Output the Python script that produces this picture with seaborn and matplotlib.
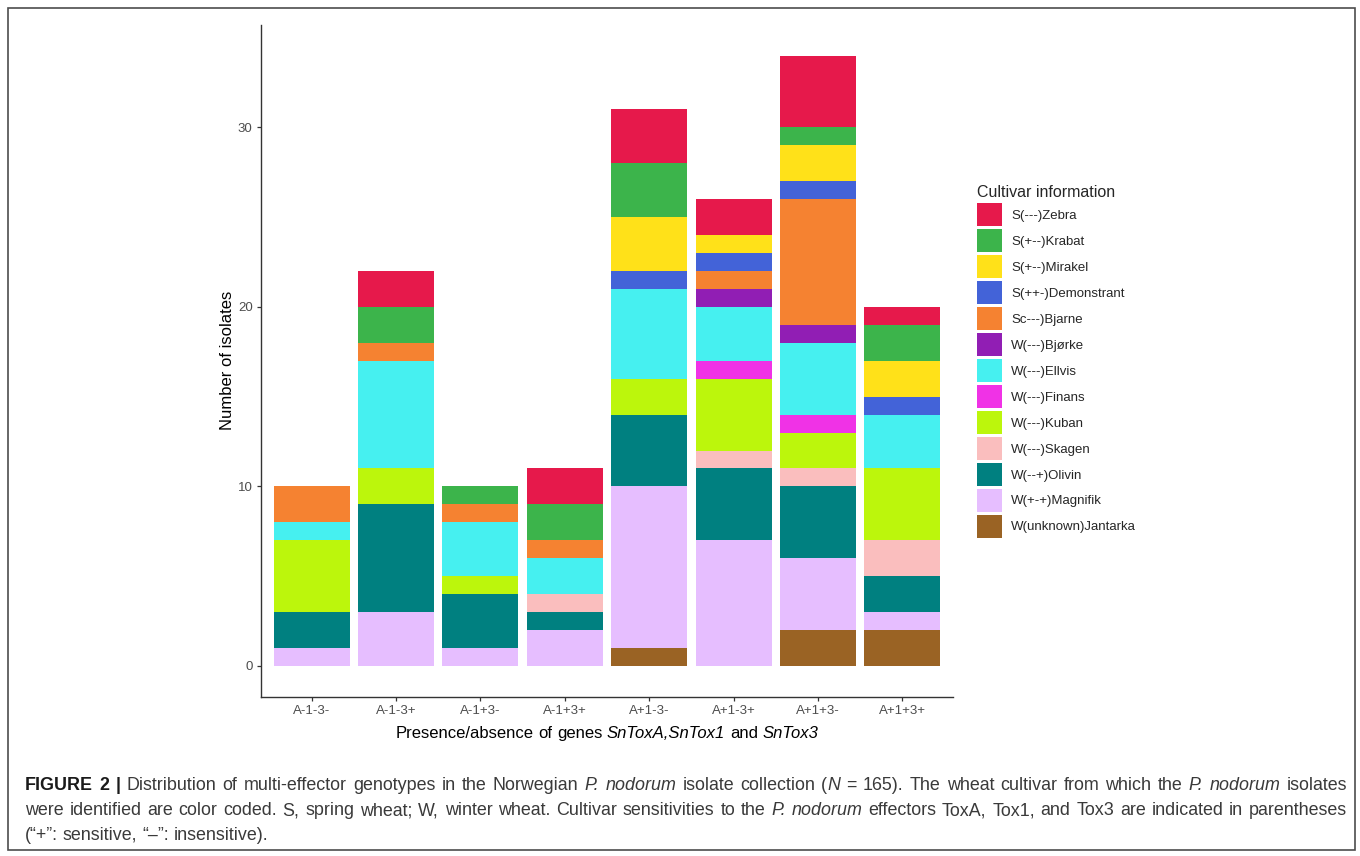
import numpy as np
import pandas as pd
import seaborn as sns
import matplotlib.pyplot as plt
from matplotlib.patches import Rectangle

# genotype categories (x axis)
genotypes = ["A-1-3-", "A-1-3+", "A-1+3-", "A-1+3+", "A+1-3-", "A+1-3+", "A+1+3-", "A+1+3+"]

# cultivar levels, top of stack first (legend order)
cultivars = ["S(---)Zebra", "S(+--)Krabat", "S(+--)Mirakel", "S(++-)Demonstrant",
             "Sc---)Bjarne", "W(---)Bjørke", "W(---)Ellvis", "W(---)Finans",
             "W(---)Kuban", "W(---)Skagen", "W(--+)Olivin", "W(+-+)Magnifik",
             "W(unknown)Jantarka"]
colors = ["#E6194B", "#3CB44B", "#FFE119", "#4363D8", "#F58231", "#911EB4", "#46F0F0",
          "#F032E6", "#BCF60C", "#FABEBE", "#008080", "#E6BEFF", "#9A6324"]

# number of isolates per genotype, one list per cultivar
zebra       = [0, 2, 0, 2, 3, 2, 4, 1]
krabat      = [0, 2, 1, 2, 3, 0, 1, 2]
mirakel     = [0, 0, 0, 0, 3, 1, 2, 2]
demonstrant = [0, 0, 0, 0, 1, 1, 1, 1]
bjarne      = [2, 1, 1, 1, 0, 1, 7, 0]
bjorke      = [0, 0, 0, 0, 0, 1, 1, 0]
ellvis      = [1, 6, 3, 2, 5, 3, 4, 3]
finans      = [0, 0, 0, 0, 0, 1, 1, 0]
kuban       = [4, 2, 1, 0, 2, 4, 2, 4]
skagen      = [0, 0, 0, 1, 0, 1, 1, 2]
olivin      = [2, 6, 3, 1, 4, 4, 4, 2]
magnifik    = [1, 3, 1, 2, 9, 7, 4, 1]
jantarka    = [0, 0, 0, 0, 1, 0, 2, 2]

counts = [zebra, krabat, mirakel, demonstrant, bjarne, bjorke, ellvis, finans,
          kuban, skagen, olivin, magnifik, jantarka]

# * toggles italic, # toggles bold
x_title = "Presence/absence of genes *SnToxA,SnTox1* and *SnTox3*"
caption_lines = [
    "#FIGURE 2 |# Distribution of multi-effector genotypes in the Norwegian *P. nodorum* isolate "
    "collection (*N* = 165). The wheat cultivar from which the *P. nodorum* isolates",
    "were identified are color coded. S, spring wheat; W, winter wheat. Cultivar sensitivities "
    "to the *P. nodorum* effectors ToxA, Tox1, and Tox3 are indicated in parentheses",
    "(\u201c+\u201d: sensitive, \u201c\u2013\u201d: insensitive).",
]

# === build long table ===
records = []
for j, g in enumerate(genotypes):
    for c, vals in zip(cultivars, counts):
        if vals[j] > 0:
            records.append({"genotype": g, "cultivar": c, "count": vals[j]})
df = pd.DataFrame(records)
df["genotype"] = pd.Categorical(df["genotype"], categories=genotypes)

sns.set_theme(style="ticks")
plt.rcParams["font.family"] = ["Liberation Sans", "DejaVu Sans"]

W, H = 1360, 856
fig = plt.figure(figsize=(W / 100, H / 100), dpi=100)
ax = fig.add_axes([261 / W, 1 - 696.5 / H, (953 - 261) / W, (696.5 - 25) / H])

sns.histplot(data=df, x="genotype", hue="cultivar", weights="count",
             multiple="stack", discrete=True, shrink=0.9,
             hue_order=cultivars, palette=dict(zip(cultivars, colors)),
             linewidth=0, alpha=1, ax=ax)

ax.set_xlim(-0.6, 7.6)
ax.set_ylim(-1.7, 35.7)
ax.set_yticks([0, 10, 20, 30])
sns.despine(ax=ax)
for s in ["left", "bottom"]:
    ax.spines[s].set_color("#333333")
    ax.spines[s].set_linewidth(1.0)
ax.tick_params(axis="both", length=3, width=0.9, color="#333333",
               labelcolor="#4D4D4D", labelsize=9.5, pad=3)

ax.set_ylabel("Number of isolates", fontsize=12, color="black")
ax.set_xlabel("")
ax.yaxis.label.set_va("center")
ax.yaxis.set_label_coords((227 - 261) / 692, 0.5)

sns.move_legend(ax, "center left", bbox_to_anchor=(1.035, 0.499),
                title="Cultivar information", frameon=False, fontsize=9.5,
                title_fontsize=11.5, handlelength=1.9, handleheight=2.3,
                labelspacing=0.23, handletextpad=0.68, borderpad=0,
                borderaxespad=0, alignment="left")

# === text with mixed styles, placed word by word ===
renderer = fig.canvas.get_renderer()


def parse(line):
    italic, bold = False, False
    words = []
    for w in line.split(" "):
        segs, buf = [], ""
        for ch in w:
            if ch in "*#":
                if buf:
                    segs.append((buf, italic, bold))
                    buf = ""
                if ch == "*":
                    italic = not italic
                else:
                    bold = not bold
            else:
                buf += ch
        if buf:
            segs.append((buf, italic, bold))
        words.append(segs)
    return words


def draw_line(line, y, x0=25, x1=1347, mode="justify", size=12.9,
              color="#3a3a3a", bold_color="#1a1a1a"):
    words = parse(line)
    objs, widths = [], []
    for segs in words:
        row, wsum = [], 0
        for txt, it, bd in segs:
            t = fig.text(0, 1 - y / H, txt, fontsize=size,
                         fontstyle="italic" if it else "normal",
                         fontweight="bold" if bd else "normal",
                         color=bold_color if bd else color, va="baseline")
            wd = t.get_window_extent(renderer).width
            row.append((t, wd))
            wsum += wd
        objs.append(row)
        widths.append(wsum)
    space = size * 100 / 72 * 0.278
    if mode == "justify":
        gap = (x1 - x0 - sum(widths)) / (len(words) - 1)
    else:
        gap = space
    if mode == "center":
        total = sum(widths) + space * (len(words) - 1)
        x0 = (x0 + x1) / 2 - total / 2
    x = x0
    for row, wsum in zip(objs, widths):
        for t, wd in row:
            t.set_x(x / W)
            x += wd
        x += gap


# x axis title centred under the panel
draw_line(x_title, 738, x0=261, x1=953, mode="center", size=12,
          color="black", bold_color="black")

draw_line(caption_lines[0], 790)
draw_line(caption_lines[1], 815)
draw_line(caption_lines[2], 840, mode="left")

fig.patches.append(Rectangle((8 / W, 1 - 850 / H), (1355 - 8) / W, (850 - 8) / H,
                             transform=fig.transFigure, fill=False,
                             edgecolor="#4d4d4d", linewidth=1.2))

fig.savefig("out.png", dpi=100)
